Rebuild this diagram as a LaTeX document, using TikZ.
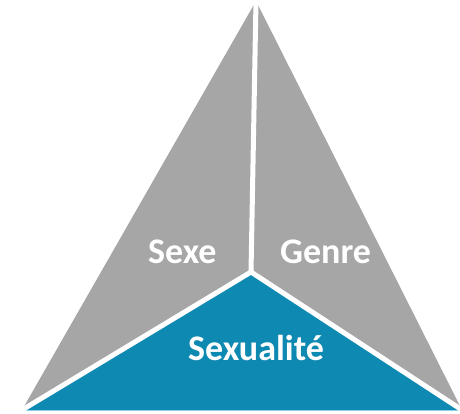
\documentclass[tikz,border=0pt]{standalone}
\usepackage{fontspec}
\setmainfont{Carlito}
\definecolor{pgray}{HTML}{A6A6A6}
\definecolor{pblue}{HTML}{0E89B1}
\definecolor{pline}{HTML}{8CCFE6}
\begin{document}
\begin{tikzpicture}[x=1pt,y=1pt,
  lab/.style={text=white,font=\fontsize{36}{40}\selectfont\bfseries,inner sep=0pt,anchor=base west},
  divider/.style={draw=white,line width=5pt}]
\useasboundingbox (0,0) rectangle (460,413);
\clip (0,0) rectangle (460,413);
\coordinate (A) at (256,412);
\coordinate (B) at (22,3);
\coordinate (C) at (462,3);
\coordinate (O) at (251,141);
\fill[pgray] (A) -- (O) -- (B) -- cycle;
\fill[pgray] (A) -- (O) -- (C) -- cycle;
\fill[pblue] (B) -- (O) -- (C) -- cycle;
\draw[pline,line width=1.5pt] ([yshift=-0.5pt]B) -- ([yshift=-0.5pt]C);
\draw[divider] (O) -- (A);
\draw[divider] (O) -- (B);
\draw[divider] (O) -- (C);
\node[lab] (sexe) at (148,150) {Sexe};
\node[lab] (genre) at (280,150) {Genre};
\node[lab] (sexualite) at (188,53) {Sexualité};
\end{tikzpicture}
\end{document}
